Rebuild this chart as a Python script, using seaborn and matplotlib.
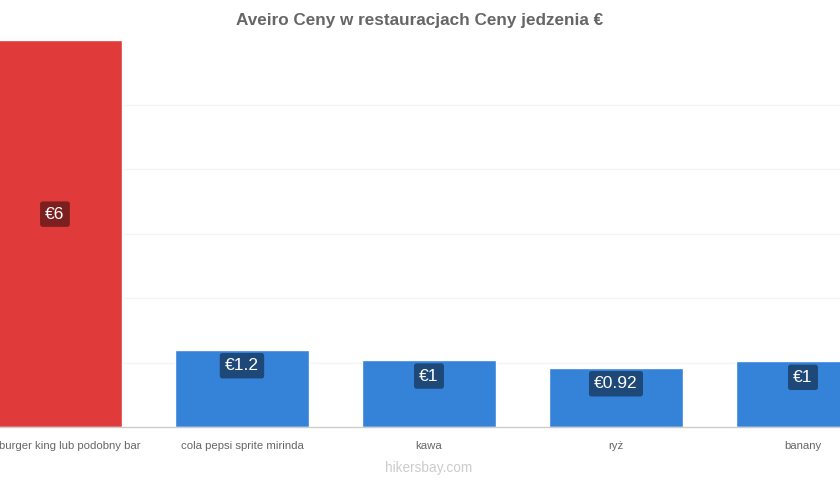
import matplotlib
matplotlib.use("Agg")
import matplotlib.pyplot as plt
import matplotlib.transforms as mtransforms
import seaborn as sns
import pandas as pd

# ------------------------
# DATA
# ------------------------

items = [
    "burger king lub podobny bar",
    "cola pepsi sprite mirinda",
    "kawa",
    "ryż",
    "banany",
]
prices = [6.0, 1.2, 1.04, 0.92, 1.02]
price_labels = ["€6", "€1.2", "€1", "€0.92", "€1"]

title = "Aveiro Ceny w restauracjach Ceny jedzenia €"
watermark = "hikersbay.com"

# ------------------------
# PLOT
# ------------------------

sns.set_theme(style="white")
plt.rcParams["font.family"] = ["Liberation Sans", "DejaVu Sans"]

df = pd.DataFrame({"item": items, "price": prices})
colors = ["#e03a3a"] + ["#3583d9"] * (len(items) - 1)

fig = plt.figure(figsize=(8.4, 4.8), dpi=100)
ax = fig.add_axes([0, 53 / 480, 1, 387 / 480])

sns.barplot(data=df, x="item", y="price", hue="item", palette=colors,
            width=0.72, legend=False, ax=ax, saturation=1)

ax.set_xlim(-0.294, 4.198)
ax.set_ylim(0, 6)
ax.set_yticks([1, 2, 3, 4, 5])
ax.yaxis.grid(True, color="#f4f4f4", linewidth=1)
ax.set_axisbelow(True)
ax.tick_params(axis="y", left=False, labelleft=False)
ax.tick_params(axis="x", bottom=False, colors="#666666", labelsize=8.2, pad=4)
ax.set_xlabel("")
ax.set_ylabel("")
for side in ["top", "left", "right"]:
    ax.spines[side].set_visible(False)
ax.spines["bottom"].set_color("#cccccc")
ax.spines["bottom"].set_linewidth(1)

# first label would run past the left edge -> nudge it right so it stays visible
first = ax.get_xticklabels()[0]
first.set_transform(first.get_transform() +
                    mtransforms.ScaledTranslation(0.15, 0, fig.dpi_scale_trans))

top = max(prices)
for i, (v, lab) in enumerate(zip(prices, price_labels)):
    y = v * 0.55 if v == top else v - 0.25
    ax.text(i, y, lab, ha="center", va="center", color="white", fontsize=12.5,
            bbox=dict(boxstyle="round,pad=0.3,rounding_size=0.15",
                      facecolor="black", alpha=0.45, edgecolor="none"))

fig.text(0.5, 1 - 20 / 480, title, ha="center", va="center",
         fontsize=12.3, fontweight="bold", color="#666666")
fig.text(429 / 840, 1 - 468 / 480, watermark, ha="center", va="center",
         fontsize=9.8, color="#cccccc")

fig.savefig("out.png", dpi=100)
